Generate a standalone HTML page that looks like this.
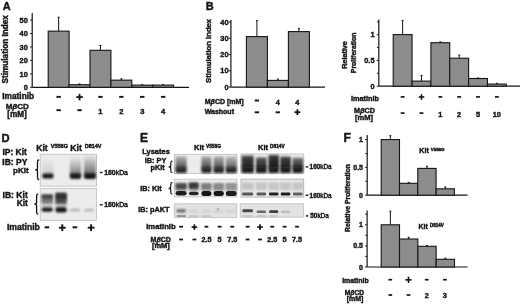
<!DOCTYPE html>
<html><head><meta charset="utf-8"><style>
html,body{margin:0;padding:0;background:#fff;width:520px;height:305px;overflow:hidden}
svg{display:block;font-family:"Liberation Sans", sans-serif;will-change:transform;filter:blur(0.3px)} text{stroke:#141414;stroke-width:0.4px;paint-order:stroke}
</style></head><body>
<svg width="520" height="305" viewBox="0 0 520 305">
<defs><filter id="bl1" x="-30%" y="-60%" width="160%" height="220%"><feGaussianBlur stdDeviation="0.1"/></filter><filter id="bl2" x="-30%" y="-60%" width="160%" height="220%"><feGaussianBlur stdDeviation="0.2"/></filter><filter id="bl3" x="-30%" y="-60%" width="160%" height="220%"><feGaussianBlur stdDeviation="0.3"/></filter><filter id="bl4" x="-30%" y="-60%" width="160%" height="220%"><feGaussianBlur stdDeviation="0.4"/></filter><filter id="bl5" x="-30%" y="-60%" width="160%" height="220%"><feGaussianBlur stdDeviation="0.5"/></filter><filter id="bl6" x="-30%" y="-60%" width="160%" height="220%"><feGaussianBlur stdDeviation="0.6"/></filter><filter id="bl7" x="-30%" y="-60%" width="160%" height="220%"><feGaussianBlur stdDeviation="0.7"/></filter><filter id="bl8" x="-30%" y="-60%" width="160%" height="220%"><feGaussianBlur stdDeviation="0.8"/></filter><filter id="bl9" x="-30%" y="-60%" width="160%" height="220%"><feGaussianBlur stdDeviation="0.9"/></filter><filter id="bl10" x="-30%" y="-60%" width="160%" height="220%"><feGaussianBlur stdDeviation="1.0"/></filter><filter id="bl11" x="-30%" y="-60%" width="160%" height="220%"><feGaussianBlur stdDeviation="1.1"/></filter><filter id="bl12" x="-30%" y="-60%" width="160%" height="220%"><feGaussianBlur stdDeviation="1.2"/></filter><filter id="bl13" x="-30%" y="-60%" width="160%" height="220%"><feGaussianBlur stdDeviation="1.3"/></filter><filter id="bl14" x="-30%" y="-60%" width="160%" height="220%"><feGaussianBlur stdDeviation="1.4"/></filter><filter id="bl15" x="-30%" y="-60%" width="160%" height="220%"><feGaussianBlur stdDeviation="1.5"/></filter><filter id="bl16" x="-30%" y="-60%" width="160%" height="220%"><feGaussianBlur stdDeviation="1.6"/></filter><filter id="bl17" x="-30%" y="-60%" width="160%" height="220%"><feGaussianBlur stdDeviation="1.7"/></filter><filter id="bl18" x="-30%" y="-60%" width="160%" height="220%"><feGaussianBlur stdDeviation="1.8"/></filter><filter id="bl19" x="-30%" y="-60%" width="160%" height="220%"><feGaussianBlur stdDeviation="1.9"/></filter><linearGradient id="g1" x1="0" y1="0" x2="0" y2="1"><stop offset="0" stop-color="#aaa" stop-opacity="0.0"/><stop offset="1" stop-color="#aaa" stop-opacity="0.5"/></linearGradient><linearGradient id="g2" x1="0" y1="0" x2="0" y2="1"><stop offset="0" stop-color="#6a6a6a" stop-opacity="0.0"/><stop offset="1" stop-color="#6a6a6a" stop-opacity="0.9"/></linearGradient><linearGradient id="g3" x1="0" y1="0" x2="0" y2="1"><stop offset="0" stop-color="#5a5a5a" stop-opacity="0.0"/><stop offset="1" stop-color="#5a5a5a" stop-opacity="0.95"/></linearGradient><linearGradient id="g4" x1="0" y1="0" x2="0" y2="1"><stop offset="0" stop-color="#9a9a9a" stop-opacity="0.75"/><stop offset="1" stop-color="#404040" stop-opacity="1.0"/></linearGradient><linearGradient id="g5" x1="0" y1="0" x2="0" y2="1"><stop offset="0" stop-color="#909090" stop-opacity="0.75"/><stop offset="1" stop-color="#3c3c3c" stop-opacity="1.0"/></linearGradient><linearGradient id="g6" x1="0" y1="0" x2="0" y2="1"><stop offset="0" stop-color="#959595" stop-opacity="0.75"/><stop offset="1" stop-color="#404040" stop-opacity="1.0"/></linearGradient><linearGradient id="g7" x1="0" y1="0" x2="0" y2="1"><stop offset="0" stop-color="#aaaaaa" stop-opacity="0.75"/><stop offset="1" stop-color="#4c4c4c" stop-opacity="1.0"/></linearGradient><linearGradient id="g8" x1="0" y1="0" x2="0" y2="1"><stop offset="0" stop-color="#555" stop-opacity="1.0"/><stop offset="0.35" stop-color="#333" stop-opacity="1.0"/><stop offset="1" stop-color="#262626" stop-opacity="1.0"/></linearGradient><linearGradient id="g9" x1="0" y1="0" x2="0" y2="1"><stop offset="0" stop-color="#707070" stop-opacity="1.0"/><stop offset="0.35" stop-color="#444" stop-opacity="1.0"/><stop offset="1" stop-color="#2e2e2e" stop-opacity="1.0"/></linearGradient><linearGradient id="g10" x1="0" y1="0" x2="0" y2="1"><stop offset="0" stop-color="#484848" stop-opacity="1.0"/><stop offset="0.35" stop-color="#2a2a2a" stop-opacity="1.0"/><stop offset="1" stop-color="#1e1e1e" stop-opacity="1.0"/></linearGradient><linearGradient id="g11" x1="0" y1="0" x2="0" y2="1"><stop offset="0" stop-color="#555" stop-opacity="1.0"/><stop offset="0.35" stop-color="#333" stop-opacity="1.0"/><stop offset="1" stop-color="#262626" stop-opacity="1.0"/></linearGradient><linearGradient id="g12" x1="0" y1="0" x2="0" y2="1"><stop offset="0" stop-color="#909090" stop-opacity="1.0"/><stop offset="0.35" stop-color="#555" stop-opacity="1.0"/><stop offset="1" stop-color="#303030" stop-opacity="1.0"/></linearGradient></defs>
<rect width="520" height="305" fill="#fff"/>
<text x="2.80" y="9.60" font-size="11" font-weight="bold" text-anchor="start" fill="#141414">A</text>
<line x1="32.20" y1="13.00" x2="32.20" y2="87.30" stroke="#141414" stroke-width="1.2"/>
<line x1="30.20" y1="87.30" x2="32.20" y2="87.30" stroke="#141414" stroke-width="1"/>
<text x="27.80" y="89.95" font-size="7.4" font-weight="bold" text-anchor="end" fill="#141414">0</text>
<line x1="30.20" y1="73.85" x2="32.20" y2="73.85" stroke="#141414" stroke-width="1"/>
<text x="27.80" y="76.50" font-size="7.4" font-weight="bold" text-anchor="end" fill="#141414">10</text>
<line x1="30.20" y1="60.40" x2="32.20" y2="60.40" stroke="#141414" stroke-width="1"/>
<text x="27.80" y="63.05" font-size="7.4" font-weight="bold" text-anchor="end" fill="#141414">20</text>
<line x1="30.20" y1="46.95" x2="32.20" y2="46.95" stroke="#141414" stroke-width="1"/>
<text x="27.80" y="49.60" font-size="7.4" font-weight="bold" text-anchor="end" fill="#141414">30</text>
<line x1="30.20" y1="33.50" x2="32.20" y2="33.50" stroke="#141414" stroke-width="1"/>
<text x="27.80" y="36.15" font-size="7.4" font-weight="bold" text-anchor="end" fill="#141414">40</text>
<line x1="30.20" y1="20.05" x2="32.20" y2="20.05" stroke="#141414" stroke-width="1"/>
<text x="27.80" y="22.70" font-size="7.4" font-weight="bold" text-anchor="end" fill="#141414">50</text>
<line x1="32.20" y1="87.30" x2="189.00" y2="87.30" stroke="#141414" stroke-width="1.2"/>
<line x1="58.65" y1="17.23" x2="58.65" y2="31.14" stroke="#141414" stroke-width="1"/>
<line x1="57.65" y1="17.23" x2="59.65" y2="17.23" stroke="#141414" stroke-width="1"/>
<rect x="48.20" y="31.14" width="20.90" height="56.16" fill="#8c8c8c" stroke="#141414" stroke-width="1.1"/>
<line x1="79.55" y1="83.92" x2="79.55" y2="84.73" stroke="#141414" stroke-width="1"/>
<line x1="78.55" y1="83.92" x2="80.55" y2="83.92" stroke="#141414" stroke-width="1"/>
<rect x="69.10" y="84.73" width="20.90" height="2.56" fill="#8c8c8c" stroke="#141414" stroke-width="1.1"/>
<line x1="100.45" y1="45.45" x2="100.45" y2="50.31" stroke="#141414" stroke-width="1"/>
<line x1="99.45" y1="45.45" x2="101.45" y2="45.45" stroke="#141414" stroke-width="1"/>
<rect x="90.00" y="50.31" width="20.90" height="36.99" fill="#8c8c8c" stroke="#141414" stroke-width="1.1"/>
<line x1="121.35" y1="78.80" x2="121.35" y2="80.14" stroke="#141414" stroke-width="1"/>
<line x1="120.35" y1="78.80" x2="122.35" y2="78.80" stroke="#141414" stroke-width="1"/>
<rect x="110.90" y="80.14" width="20.90" height="7.16" fill="#8c8c8c" stroke="#141414" stroke-width="1.1"/>
<line x1="142.25" y1="84.60" x2="142.25" y2="85.14" stroke="#141414" stroke-width="1"/>
<line x1="141.25" y1="84.60" x2="143.25" y2="84.60" stroke="#141414" stroke-width="1"/>
<rect x="131.80" y="85.14" width="20.90" height="2.16" fill="#8c8c8c" stroke="#141414" stroke-width="1.1"/>
<line x1="163.15" y1="84.60" x2="163.15" y2="85.14" stroke="#141414" stroke-width="1"/>
<line x1="162.15" y1="84.60" x2="164.15" y2="84.60" stroke="#141414" stroke-width="1"/>
<rect x="152.70" y="85.14" width="20.90" height="2.16" fill="#8c8c8c" stroke="#141414" stroke-width="1.1"/>
<text x="7.60" y="49.30" font-size="8.2" font-weight="bold" text-anchor="middle" fill="#141414" transform="rotate(-90 7.6 49.3)">Stimulation Index</text>
<text x="2.30" y="99.40" font-size="8.3" font-weight="bold" text-anchor="start" fill="#141414">Imatinib</text>
<text x="17.30" y="109.40" font-size="8.0" font-weight="bold" text-anchor="middle" fill="#141414">M<tspan font-style="italic">&#946;</tspan>CD</text>
<text x="17.00" y="117.20" font-size="8.2" font-weight="bold" text-anchor="middle" fill="#141414">[mM]</text>
<rect x="56.45" y="95.90" width="4.40" height="1.90" fill="#141414"/>
<rect x="76.30" y="96.20" width="6.50" height="1.80" fill="#141414"/>
<rect x="78.65" y="93.85" width="1.80" height="6.50" fill="#141414"/>
<rect x="98.25" y="95.90" width="4.40" height="1.90" fill="#141414"/>
<rect x="119.15" y="95.90" width="4.40" height="1.90" fill="#141414"/>
<rect x="140.05" y="95.90" width="4.40" height="1.90" fill="#141414"/>
<rect x="160.95" y="95.90" width="4.40" height="1.90" fill="#141414"/>
<rect x="56.45" y="109.25" width="4.40" height="1.90" fill="#141414"/>
<rect x="77.35" y="109.25" width="4.40" height="1.90" fill="#141414"/>
<text x="100.45" y="113.72" font-size="7.6" font-weight="bold" text-anchor="middle" fill="#141414">1</text>
<text x="121.35" y="113.72" font-size="7.6" font-weight="bold" text-anchor="middle" fill="#141414">2</text>
<text x="142.25" y="113.72" font-size="7.6" font-weight="bold" text-anchor="middle" fill="#141414">3</text>
<text x="163.15" y="113.72" font-size="7.6" font-weight="bold" text-anchor="middle" fill="#141414">4</text>
<text x="205.70" y="9.60" font-size="11" font-weight="bold" text-anchor="start" fill="#141414">B</text>
<line x1="230.90" y1="20.00" x2="230.90" y2="87.10" stroke="#141414" stroke-width="1.2"/>
<line x1="228.90" y1="87.10" x2="230.90" y2="87.10" stroke="#141414" stroke-width="1"/>
<text x="228.60" y="89.75" font-size="7.4" font-weight="bold" text-anchor="end" fill="#141414">0</text>
<line x1="228.90" y1="70.83" x2="230.90" y2="70.83" stroke="#141414" stroke-width="1"/>
<text x="228.60" y="73.48" font-size="7.4" font-weight="bold" text-anchor="end" fill="#141414">10</text>
<line x1="228.90" y1="54.56" x2="230.90" y2="54.56" stroke="#141414" stroke-width="1"/>
<text x="228.60" y="57.21" font-size="7.4" font-weight="bold" text-anchor="end" fill="#141414">20</text>
<line x1="228.90" y1="38.29" x2="230.90" y2="38.29" stroke="#141414" stroke-width="1"/>
<text x="228.60" y="40.94" font-size="7.4" font-weight="bold" text-anchor="end" fill="#141414">30</text>
<line x1="228.90" y1="22.02" x2="230.90" y2="22.02" stroke="#141414" stroke-width="1"/>
<text x="228.60" y="24.67" font-size="7.4" font-weight="bold" text-anchor="end" fill="#141414">40</text>
<line x1="230.90" y1="87.10" x2="325.00" y2="87.10" stroke="#141414" stroke-width="1.2"/>
<line x1="256.90" y1="20.60" x2="256.90" y2="36.60" stroke="#141414" stroke-width="1"/>
<line x1="255.90" y1="20.60" x2="257.90" y2="20.60" stroke="#141414" stroke-width="1"/>
<rect x="246.40" y="36.60" width="21.00" height="50.50" fill="#8c8c8c" stroke="#141414" stroke-width="1.1"/>
<line x1="277.90" y1="79.00" x2="277.90" y2="80.40" stroke="#141414" stroke-width="1"/>
<line x1="276.90" y1="79.00" x2="278.90" y2="79.00" stroke="#141414" stroke-width="1"/>
<rect x="267.40" y="80.40" width="21.00" height="6.70" fill="#8c8c8c" stroke="#141414" stroke-width="1.1"/>
<line x1="298.90" y1="28.40" x2="298.90" y2="31.60" stroke="#141414" stroke-width="1"/>
<line x1="297.90" y1="28.40" x2="299.90" y2="28.40" stroke="#141414" stroke-width="1"/>
<rect x="288.40" y="31.60" width="21.00" height="55.50" fill="#8c8c8c" stroke="#141414" stroke-width="1.1"/>
<text x="211.20" y="50.90" font-size="7.7" font-weight="bold" text-anchor="middle" fill="#141414" transform="rotate(-90 211.2 50.9)">Stimulation Index</text>
<text x="204.70" y="103.60" font-size="7.0" font-weight="bold" text-anchor="start" fill="#141414">M<tspan font-style="italic">&#946;</tspan>CD [mM]</text>
<text x="204.70" y="114.20" font-size="7.0" font-weight="bold" text-anchor="start" fill="#141414">Washout</text>
<rect x="254.75" y="99.55" width="4.30" height="1.90" fill="#141414"/>
<text x="277.80" y="104.61" font-size="7.3" font-weight="bold" text-anchor="middle" fill="#141414">4</text>
<text x="297.40" y="104.61" font-size="7.3" font-weight="bold" text-anchor="middle" fill="#141414">4</text>
<rect x="254.75" y="111.35" width="4.30" height="1.90" fill="#141414"/>
<rect x="275.65" y="111.35" width="4.30" height="1.90" fill="#141414"/>
<rect x="294.50" y="111.30" width="5.80" height="1.80" fill="#141414"/>
<rect x="296.50" y="109.30" width="1.80" height="5.80" fill="#141414"/>
<line x1="378.80" y1="19.40" x2="378.80" y2="86.20" stroke="#141414" stroke-width="1.2"/>
<line x1="376.80" y1="86.20" x2="378.80" y2="86.20" stroke="#141414" stroke-width="1"/>
<text x="374.50" y="88.85" font-size="7.4" font-weight="bold" text-anchor="end" fill="#141414">0</text>
<line x1="376.80" y1="60.45" x2="378.80" y2="60.45" stroke="#141414" stroke-width="1"/>
<text x="374.50" y="63.10" font-size="7.4" font-weight="bold" text-anchor="end" fill="#141414">0.5</text>
<line x1="376.80" y1="34.70" x2="378.80" y2="34.70" stroke="#141414" stroke-width="1"/>
<text x="374.50" y="37.35" font-size="7.4" font-weight="bold" text-anchor="end" fill="#141414">1</text>
<line x1="377.00" y1="73.33" x2="378.80" y2="73.33" stroke="#141414" stroke-width="1"/>
<line x1="377.00" y1="47.58" x2="378.80" y2="47.58" stroke="#141414" stroke-width="1"/>
<line x1="377.00" y1="21.83" x2="378.80" y2="21.83" stroke="#141414" stroke-width="1"/>
<line x1="378.80" y1="86.20" x2="520.00" y2="86.20" stroke="#141414" stroke-width="1.2"/>
<line x1="402.62" y1="20.40" x2="402.62" y2="34.60" stroke="#141414" stroke-width="1"/>
<line x1="401.62" y1="20.40" x2="403.62" y2="20.40" stroke="#141414" stroke-width="1"/>
<rect x="393.20" y="34.60" width="18.85" height="51.60" fill="#8c8c8c" stroke="#141414" stroke-width="1.1"/>
<line x1="421.48" y1="75.50" x2="421.48" y2="81.10" stroke="#141414" stroke-width="1"/>
<line x1="420.48" y1="75.50" x2="422.48" y2="75.50" stroke="#141414" stroke-width="1"/>
<rect x="412.05" y="81.10" width="18.85" height="5.10" fill="#8c8c8c" stroke="#141414" stroke-width="1.1"/>
<line x1="440.32" y1="41.90" x2="440.32" y2="42.70" stroke="#141414" stroke-width="1"/>
<line x1="439.32" y1="41.90" x2="441.32" y2="41.90" stroke="#141414" stroke-width="1"/>
<rect x="430.90" y="42.70" width="18.85" height="43.50" fill="#8c8c8c" stroke="#141414" stroke-width="1.1"/>
<line x1="459.18" y1="55.10" x2="459.18" y2="58.20" stroke="#141414" stroke-width="1"/>
<line x1="458.18" y1="55.10" x2="460.18" y2="55.10" stroke="#141414" stroke-width="1"/>
<rect x="449.75" y="58.20" width="18.85" height="28.00" fill="#8c8c8c" stroke="#141414" stroke-width="1.1"/>
<line x1="478.03" y1="78.00" x2="478.03" y2="78.50" stroke="#141414" stroke-width="1"/>
<line x1="477.03" y1="78.00" x2="479.03" y2="78.00" stroke="#141414" stroke-width="1"/>
<rect x="468.60" y="78.50" width="18.85" height="7.70" fill="#8c8c8c" stroke="#141414" stroke-width="1.1"/>
<line x1="496.88" y1="83.30" x2="496.88" y2="84.10" stroke="#141414" stroke-width="1"/>
<line x1="495.88" y1="83.30" x2="497.88" y2="83.30" stroke="#141414" stroke-width="1"/>
<rect x="487.45" y="84.10" width="18.85" height="2.10" fill="#8c8c8c" stroke="#141414" stroke-width="1.1"/>
<text x="346.80" y="54.90" font-size="7.2" font-weight="bold" text-anchor="middle" fill="#141414" transform="rotate(-90 346.8 54.9)">Relative</text>
<text x="356.00" y="52.90" font-size="6.9" font-weight="bold" text-anchor="middle" fill="#141414" transform="rotate(-90 356.0 52.9)">Proliferation</text>
<text x="351.00" y="100.80" font-size="7.3" font-weight="bold" text-anchor="start" fill="#141414">Imatinib</text>
<text x="364.50" y="113.40" font-size="7.3" font-weight="bold" text-anchor="middle" fill="#141414">M<tspan font-style="italic">&#946;</tspan>CD</text>
<text x="364.00" y="120.00" font-size="7.5" font-weight="bold" text-anchor="middle" fill="#141414">[mM]</text>
<rect x="400.73" y="96.05" width="3.80" height="1.70" fill="#141414"/>
<rect x="418.67" y="96.20" width="5.60" height="1.60" fill="#141414"/>
<rect x="420.67" y="94.20" width="1.60" height="5.60" fill="#141414"/>
<rect x="438.43" y="96.05" width="3.80" height="1.70" fill="#141414"/>
<rect x="457.28" y="96.05" width="3.80" height="1.70" fill="#141414"/>
<rect x="476.12" y="96.05" width="3.80" height="1.70" fill="#141414"/>
<rect x="494.98" y="96.05" width="3.80" height="1.70" fill="#141414"/>
<rect x="400.73" y="112.25" width="3.80" height="1.70" fill="#141414"/>
<rect x="419.57" y="112.25" width="3.80" height="1.70" fill="#141414"/>
<text x="440.32" y="116.55" font-size="7.4" font-weight="bold" text-anchor="middle" fill="#141414">1</text>
<text x="459.18" y="116.55" font-size="7.4" font-weight="bold" text-anchor="middle" fill="#141414">2</text>
<text x="478.02" y="116.55" font-size="7.4" font-weight="bold" text-anchor="middle" fill="#141414">5</text>
<text x="496.88" y="116.55" font-size="7.4" font-weight="bold" text-anchor="middle" fill="#141414">10</text>
<text x="343.60" y="141.70" font-size="12.0" font-weight="bold" text-anchor="start" fill="#141414">F</text>
<line x1="367.20" y1="135.00" x2="367.20" y2="195.20" stroke="#141414" stroke-width="1.2"/>
<line x1="365.20" y1="195.20" x2="367.20" y2="195.20" stroke="#141414" stroke-width="1"/>
<text x="363.00" y="197.71" font-size="7" font-weight="bold" text-anchor="end" fill="#141414">0</text>
<line x1="365.20" y1="167.40" x2="367.20" y2="167.40" stroke="#141414" stroke-width="1"/>
<text x="363.00" y="169.91" font-size="7" font-weight="bold" text-anchor="end" fill="#141414">0.5</text>
<line x1="365.20" y1="139.60" x2="367.20" y2="139.60" stroke="#141414" stroke-width="1"/>
<text x="363.00" y="142.11" font-size="7" font-weight="bold" text-anchor="end" fill="#141414">1</text>
<line x1="365.40" y1="181.30" x2="367.20" y2="181.30" stroke="#141414" stroke-width="1"/>
<line x1="365.40" y1="153.50" x2="367.20" y2="153.50" stroke="#141414" stroke-width="1"/>
<line x1="367.20" y1="195.20" x2="467.60" y2="195.20" stroke="#141414" stroke-width="1.2"/>
<line x1="390.35" y1="135.70" x2="390.35" y2="139.60" stroke="#141414" stroke-width="1"/>
<line x1="389.35" y1="135.70" x2="391.35" y2="135.70" stroke="#141414" stroke-width="1"/>
<rect x="381.20" y="139.60" width="18.30" height="55.60" fill="#8c8c8c" stroke="#141414" stroke-width="1.1"/>
<line x1="408.65" y1="182.40" x2="408.65" y2="183.30" stroke="#141414" stroke-width="1"/>
<line x1="407.65" y1="182.40" x2="409.65" y2="182.40" stroke="#141414" stroke-width="1"/>
<rect x="399.50" y="183.30" width="18.30" height="11.90" fill="#8c8c8c" stroke="#141414" stroke-width="1.1"/>
<line x1="426.95" y1="166.30" x2="426.95" y2="168.40" stroke="#141414" stroke-width="1"/>
<line x1="425.95" y1="166.30" x2="427.95" y2="166.30" stroke="#141414" stroke-width="1"/>
<rect x="417.80" y="168.40" width="18.30" height="26.80" fill="#8c8c8c" stroke="#141414" stroke-width="1.1"/>
<line x1="445.25" y1="187.00" x2="445.25" y2="188.80" stroke="#141414" stroke-width="1"/>
<line x1="444.25" y1="187.00" x2="446.25" y2="187.00" stroke="#141414" stroke-width="1"/>
<rect x="436.10" y="188.80" width="18.30" height="6.40" fill="#8c8c8c" stroke="#141414" stroke-width="1.1"/>
<text x="419.30" y="153.10" font-size="7.1" font-weight="bold" text-anchor="start" fill="#141414">Kit</text>
<text x="430.80" y="151.10" font-size="4.4" font-weight="bold" text-anchor="start" fill="#141414">V558G</text>
<line x1="367.10" y1="210.50" x2="367.10" y2="267.00" stroke="#141414" stroke-width="1.2"/>
<line x1="365.10" y1="267.00" x2="367.10" y2="267.00" stroke="#141414" stroke-width="1"/>
<text x="363.00" y="269.51" font-size="7" font-weight="bold" text-anchor="end" fill="#141414">0</text>
<line x1="365.10" y1="245.90" x2="367.10" y2="245.90" stroke="#141414" stroke-width="1"/>
<text x="363.00" y="248.41" font-size="7" font-weight="bold" text-anchor="end" fill="#141414">0.5</text>
<line x1="365.10" y1="224.80" x2="367.10" y2="224.80" stroke="#141414" stroke-width="1"/>
<text x="363.00" y="227.31" font-size="7" font-weight="bold" text-anchor="end" fill="#141414">1</text>
<line x1="365.30" y1="256.45" x2="367.10" y2="256.45" stroke="#141414" stroke-width="1"/>
<line x1="365.30" y1="235.35" x2="367.10" y2="235.35" stroke="#141414" stroke-width="1"/>
<line x1="365.30" y1="214.25" x2="367.10" y2="214.25" stroke="#141414" stroke-width="1"/>
<line x1="367.10" y1="267.00" x2="467.60" y2="267.00" stroke="#141414" stroke-width="1.2"/>
<line x1="390.36" y1="211.20" x2="390.36" y2="224.80" stroke="#141414" stroke-width="1"/>
<line x1="389.36" y1="211.20" x2="391.36" y2="211.20" stroke="#141414" stroke-width="1"/>
<rect x="381.20" y="224.80" width="18.32" height="42.20" fill="#8c8c8c" stroke="#141414" stroke-width="1.1"/>
<line x1="408.68" y1="237.30" x2="408.68" y2="239.00" stroke="#141414" stroke-width="1"/>
<line x1="407.68" y1="237.30" x2="409.68" y2="237.30" stroke="#141414" stroke-width="1"/>
<rect x="399.52" y="239.00" width="18.32" height="28.00" fill="#8c8c8c" stroke="#141414" stroke-width="1.1"/>
<line x1="427.00" y1="245.60" x2="427.00" y2="246.30" stroke="#141414" stroke-width="1"/>
<line x1="426.00" y1="245.60" x2="428.00" y2="245.60" stroke="#141414" stroke-width="1"/>
<rect x="417.84" y="246.30" width="18.32" height="20.70" fill="#8c8c8c" stroke="#141414" stroke-width="1.1"/>
<line x1="445.32" y1="258.20" x2="445.32" y2="259.30" stroke="#141414" stroke-width="1"/>
<line x1="444.32" y1="258.20" x2="446.32" y2="258.20" stroke="#141414" stroke-width="1"/>
<rect x="436.16" y="259.30" width="18.32" height="7.70" fill="#8c8c8c" stroke="#141414" stroke-width="1.1"/>
<text x="418.40" y="229.40" font-size="7.0" font-weight="bold" text-anchor="start" fill="#141414">Kit</text>
<text x="430.10" y="226.90" font-size="4.5" font-weight="bold" text-anchor="start" fill="#141414">D814V</text>
<text x="349.80" y="198.00" font-size="6.8" font-weight="bold" text-anchor="middle" fill="#141414" transform="rotate(-90 349.8 198)">Relative Proliferation</text>
<text x="342.20" y="282.70" font-size="6.9" font-weight="bold" text-anchor="start" fill="#141414">Imatinib</text>
<text x="354.40" y="295.00" font-size="6.7" font-weight="bold" text-anchor="middle" fill="#141414">M<tspan font-style="italic">&#946;</tspan>CD</text>
<text x="355.10" y="301.20" font-size="7" font-weight="bold" text-anchor="middle" fill="#141414">[mM]</text>
<rect x="388.45" y="278.85" width="3.70" height="1.70" fill="#141414"/>
<rect x="405.40" y="279.05" width="6.20" height="1.60" fill="#141414"/>
<rect x="407.70" y="276.75" width="1.60" height="6.20" fill="#141414"/>
<rect x="424.85" y="278.85" width="3.70" height="1.70" fill="#141414"/>
<rect x="443.05" y="278.85" width="3.70" height="1.70" fill="#141414"/>
<rect x="388.45" y="294.15" width="3.70" height="1.70" fill="#141414"/>
<rect x="406.65" y="294.15" width="3.70" height="1.70" fill="#141414"/>
<text x="426.70" y="298.05" font-size="7.4" font-weight="bold" text-anchor="middle" fill="#141414">2</text>
<text x="444.90" y="298.05" font-size="7.4" font-weight="bold" text-anchor="middle" fill="#141414">3</text>
<text x="1.50" y="141.60" font-size="11.2" font-weight="bold" text-anchor="start" fill="#141414">D</text>
<text x="36.20" y="150.80" font-size="8.6" font-weight="bold" text-anchor="start" fill="#141414">Kit</text>
<text x="50.80" y="148.10" font-size="5.5" font-weight="bold" text-anchor="start" fill="#141414">V558G</text>
<text x="70.30" y="150.80" font-size="8.6" font-weight="bold" text-anchor="start" fill="#141414">Kit</text>
<text x="84.70" y="148.10" font-size="5.5" font-weight="bold" text-anchor="start" fill="#141414">D814V</text>
<text x="2.40" y="154.80" font-size="8.5" font-weight="bold" text-anchor="start" fill="#141414">IP: Kit</text>
<text x="2.30" y="165.00" font-size="8.5" font-weight="bold" text-anchor="start" fill="#141414">IB: PY</text>
<text x="28.60" y="172.90" font-size="8.0" font-weight="bold" text-anchor="end" fill="#141414">pKit</text>
<text x="2.50" y="197.80" font-size="8.6" font-weight="bold" text-anchor="start" fill="#141414">IB: Kit</text>
<text x="27.90" y="206.30" font-size="8.4" font-weight="bold" text-anchor="end" fill="#141414">Kit</text>
<text x="6.90" y="230.10" font-size="8.6" font-weight="bold" text-anchor="start" fill="#141414">Imatinib</text>
<rect x="44.60" y="226.30" width="4.60" height="2.00" fill="#141414"/>
<rect x="58.90" y="226.75" width="6.80" height="1.90" fill="#141414"/>
<rect x="61.35" y="224.30" width="1.90" height="6.80" fill="#141414"/>
<rect x="72.60" y="226.30" width="4.60" height="2.00" fill="#141414"/>
<rect x="87.70" y="226.75" width="6.80" height="1.90" fill="#141414"/>
<rect x="90.15" y="224.30" width="1.90" height="6.80" fill="#141414"/>
<path d="M38.70,160.00 C37.50,160.00 37.50,160.60 37.50,161.80 L37.50,168.15 C37.50,169.25 36.50,169.75 35.30,169.75 C36.50,169.75 37.50,170.25 37.50,171.35 L37.50,177.70 C37.50,178.90 37.50,179.50 38.70,179.50" fill="none" stroke="#141414" stroke-width="1.3" stroke-linecap="round"/>
<path d="M37.80,194.10 C36.60,194.10 36.60,194.70 36.60,195.90 L36.60,202.50 C36.60,203.60 35.60,204.10 34.40,204.10 C35.60,204.10 36.60,204.60 36.60,205.70 L36.60,212.30 C36.60,213.50 36.60,214.10 37.80,214.10" fill="none" stroke="#141414" stroke-width="1.3" stroke-linecap="round"/>
<rect x="40.20" y="154.20" width="56.20" height="32.00" fill="#ececec" stroke="#bdbdbd" stroke-width="0.8"/>
<rect x="42.30" y="158.00" width="11.20" height="17.50" fill="url(#g1)" filter="url(#bl10)" rx="1"/>
<rect x="42.30" y="173.50" width="11.20" height="5.10" fill="#1c1c1c" fill-opacity="1.0" filter="url(#bl9)" rx="2"/>
<rect x="69.90" y="156.70" width="11.20" height="18.80" fill="url(#g2)" filter="url(#bl10)" rx="1"/>
<rect x="69.90" y="173.30" width="11.20" height="5.70" fill="#1c1c1c" fill-opacity="1.0" filter="url(#bl9)" rx="2"/>
<rect x="84.00" y="154.60" width="11.90" height="20.90" fill="url(#g3)" filter="url(#bl10)" rx="1"/>
<rect x="84.00" y="173.30" width="11.90" height="5.70" fill="#181818" fill-opacity="1.0" filter="url(#bl9)" rx="2"/>
<rect x="40.20" y="188.40" width="56.20" height="31.90" fill="#ececec" stroke="#bdbdbd" stroke-width="0.8"/>
<rect x="41.60" y="198.50" width="11.20" height="9.00" fill="#aaa" fill-opacity="0.6" filter="url(#bl12)" rx="0.8"/>
<rect x="55.50" y="198.50" width="11.10" height="9.00" fill="#999" fill-opacity="0.6" filter="url(#bl12)" rx="0.8"/>
<rect x="41.60" y="194.00" width="11.20" height="9.20" fill="#666" fill-opacity="0.85" filter="url(#bl12)" rx="0.8"/>
<rect x="55.50" y="192.60" width="11.10" height="11.20" fill="#444" fill-opacity="0.9" filter="url(#bl12)" rx="0.8"/>
<rect x="41.80" y="195.00" width="10.80" height="3.80" fill="#3a3a3a" fill-opacity="0.85" filter="url(#bl9)" rx="0.8"/>
<rect x="55.70" y="193.80" width="10.70" height="5.70" fill="#2a2a2a" fill-opacity="0.85" filter="url(#bl9)" rx="0.8"/>
<rect x="41.60" y="207.40" width="11.20" height="4.40" fill="#1a1a1a" fill-opacity="1.0" filter="url(#bl8)" rx="2"/>
<rect x="55.50" y="207.30" width="11.10" height="5.10" fill="#161616" fill-opacity="1.0" filter="url(#bl8)" rx="2"/>
<rect x="69.80" y="208.80" width="10.20" height="2.80" fill="#b4b4b4" fill-opacity="1.0" filter="url(#bl8)" rx="2"/>
<rect x="84.20" y="208.80" width="10.00" height="2.80" fill="#b8b8b8" fill-opacity="1.0" filter="url(#bl8)" rx="2"/>
<rect x="99.80" y="171.80" width="2.80" height="1.40" fill="#141414"/>
<rect x="99.80" y="204.10" width="2.80" height="1.40" fill="#141414"/>
<text x="104.20" y="174.70" font-size="6.9" font-weight="bold" text-anchor="start" fill="#141414">160<tspan font-weight="normal">kDa</tspan></text>
<text x="104.20" y="207.10" font-size="6.9" font-weight="bold" text-anchor="start" fill="#141414">160<tspan font-weight="normal">kDa</tspan></text>
<text x="139.90" y="141.60" font-size="12.0" font-weight="bold" text-anchor="start" fill="#141414">E</text>
<text x="194.00" y="150.00" font-size="7.5" font-weight="bold" text-anchor="start" fill="#141414">Kit</text>
<text x="206.00" y="147.60" font-size="4.8" font-weight="bold" text-anchor="start" fill="#141414">V558G</text>
<text x="258.00" y="149.60" font-size="7.5" font-weight="bold" text-anchor="start" fill="#141414">Kit</text>
<text x="270.00" y="148.00" font-size="4.8" font-weight="bold" text-anchor="start" fill="#141414">D814V</text>
<text x="142.20" y="153.70" font-size="7.5" font-weight="bold" text-anchor="start" fill="#141414">Lysates</text>
<text x="166.30" y="163.40" font-size="7.3" font-weight="bold" text-anchor="end" fill="#141414">IB: PY</text>
<text x="164.80" y="170.20" font-size="7.3" font-weight="bold" text-anchor="end" fill="#141414">pKit</text>
<text x="161.70" y="190.80" font-size="7.3" font-weight="bold" text-anchor="end" fill="#141414">IB: Kit</text>
<text x="169.40" y="211.70" font-size="7.3" font-weight="bold" text-anchor="end" fill="#141414">IB: pAKT</text>
<path d="M172.00,161.20 C170.80,161.20 170.80,161.80 170.80,163.00 L170.80,165.25 C170.80,166.35 169.80,166.85 168.60,166.85 C169.80,166.85 170.80,167.35 170.80,168.45 L170.80,170.70 C170.80,171.90 170.80,172.50 172.00,172.50" fill="none" stroke="#141414" stroke-width="1.2" stroke-linecap="round"/>
<path d="M172.00,182.60 C170.80,182.60 170.80,183.20 170.80,184.40 L170.80,186.70 C170.80,187.80 169.80,188.30 168.60,188.30 C169.80,188.30 170.80,188.80 170.80,189.90 L170.80,192.20 C170.80,193.40 170.80,194.00 172.00,194.00" fill="none" stroke="#141414" stroke-width="1.2" stroke-linecap="round"/>
<text x="146.20" y="229.20" font-size="7.7" font-weight="bold" text-anchor="start" fill="#141414">Imatinib</text>
<text x="160.70" y="241.50" font-size="7.0" font-weight="bold" text-anchor="middle" fill="#141414">M<tspan font-style="italic">&#946;</tspan>CD</text>
<text x="160.90" y="247.70" font-size="7.5" font-weight="bold" text-anchor="middle" fill="#141414">[mM]</text>
<rect x="179.20" y="225.80" width="3.80" height="1.80" fill="#141414"/>
<rect x="191.60" y="226.25" width="5.60" height="1.70" fill="#141414"/>
<rect x="193.55" y="224.30" width="1.70" height="5.60" fill="#141414"/>
<rect x="204.50" y="225.80" width="3.80" height="1.80" fill="#141414"/>
<rect x="217.70" y="225.80" width="3.80" height="1.80" fill="#141414"/>
<rect x="230.30" y="225.80" width="3.80" height="1.80" fill="#141414"/>
<rect x="245.70" y="225.80" width="3.80" height="1.80" fill="#141414"/>
<rect x="257.20" y="226.25" width="5.60" height="1.70" fill="#141414"/>
<rect x="259.15" y="224.30" width="1.70" height="5.60" fill="#141414"/>
<rect x="270.30" y="225.80" width="3.80" height="1.80" fill="#141414"/>
<rect x="282.70" y="225.80" width="3.80" height="1.80" fill="#141414"/>
<rect x="295.10" y="225.80" width="3.80" height="1.80" fill="#141414"/>
<rect x="179.20" y="238.60" width="3.80" height="1.80" fill="#141414"/>
<rect x="192.50" y="238.60" width="3.80" height="1.80" fill="#141414"/>
<text x="206.40" y="242.18" font-size="7.2" font-weight="bold" text-anchor="middle" fill="#141414">2.5</text>
<text x="219.60" y="242.18" font-size="7.2" font-weight="bold" text-anchor="middle" fill="#141414">5</text>
<text x="232.20" y="242.18" font-size="7.2" font-weight="bold" text-anchor="middle" fill="#141414">7.5</text>
<rect x="245.70" y="238.60" width="3.80" height="1.80" fill="#141414"/>
<rect x="258.10" y="238.60" width="3.80" height="1.80" fill="#141414"/>
<text x="272.20" y="242.18" font-size="7.2" font-weight="bold" text-anchor="middle" fill="#141414">2.5</text>
<text x="284.60" y="242.18" font-size="7.2" font-weight="bold" text-anchor="middle" fill="#141414">5</text>
<text x="297.00" y="242.18" font-size="7.2" font-weight="bold" text-anchor="middle" fill="#141414">7.5</text>
<rect x="174.30" y="154.30" width="62.60" height="19.10" fill="#ececec" stroke="#bdbdbd" stroke-width="0.8"/>
<rect x="175.60" y="156.40" width="11.00" height="12.60" fill="url(#g4)" filter="url(#bl9)" rx="1"/>
<rect x="175.60" y="167.40" width="11.00" height="5.50" fill="#262626" fill-opacity="1.0" filter="url(#bl9)" rx="0.8"/>
<rect x="201.40" y="156.40" width="10.00" height="12.60" fill="url(#g5)" filter="url(#bl9)" rx="1"/>
<rect x="201.40" y="167.40" width="10.00" height="5.50" fill="#262626" fill-opacity="1.0" filter="url(#bl9)" rx="0.8"/>
<rect x="213.60" y="156.40" width="10.20" height="12.60" fill="url(#g6)" filter="url(#bl9)" rx="1"/>
<rect x="213.60" y="167.40" width="10.20" height="5.50" fill="#262626" fill-opacity="1.0" filter="url(#bl9)" rx="0.8"/>
<rect x="225.80" y="156.40" width="10.80" height="12.60" fill="url(#g7)" filter="url(#bl9)" rx="1"/>
<rect x="225.80" y="167.40" width="10.80" height="5.50" fill="#262626" fill-opacity="1.0" filter="url(#bl9)" rx="0.8"/>
<rect x="174.30" y="179.20" width="62.60" height="17.70" fill="#ececec" stroke="#bdbdbd" stroke-width="0.8"/>
<rect x="175.60" y="183.20" width="11.00" height="8.30" fill="#9a9a9a" fill-opacity="0.8" filter="url(#bl10)" rx="0.8"/>
<rect x="188.80" y="183.20" width="9.80" height="8.30" fill="#9a9a9a" fill-opacity="0.8" filter="url(#bl10)" rx="0.8"/>
<rect x="201.40" y="183.20" width="10.00" height="8.30" fill="#9a9a9a" fill-opacity="0.8" filter="url(#bl10)" rx="0.8"/>
<rect x="213.60" y="183.20" width="10.20" height="8.30" fill="#9a9a9a" fill-opacity="0.8" filter="url(#bl10)" rx="0.8"/>
<rect x="225.80" y="183.20" width="10.80" height="8.30" fill="#9a9a9a" fill-opacity="0.8" filter="url(#bl10)" rx="0.8"/>
<rect x="175.60" y="183.20" width="11.00" height="6.00" fill="#444" fill-opacity="0.95" filter="url(#bl10)" rx="0.8"/>
<rect x="188.80" y="182.50" width="9.80" height="6.30" fill="#2e2e2e" fill-opacity="0.95" filter="url(#bl10)" rx="0.8"/>
<rect x="201.40" y="183.50" width="10.00" height="6.10" fill="#7a7a7a" fill-opacity="0.95" filter="url(#bl10)" rx="0.8"/>
<rect x="213.60" y="183.50" width="10.20" height="6.10" fill="#858585" fill-opacity="0.95" filter="url(#bl10)" rx="0.8"/>
<rect x="225.80" y="183.50" width="10.80" height="6.10" fill="#909090" fill-opacity="0.95" filter="url(#bl10)" rx="0.8"/>
<rect x="175.60" y="191.00" width="11.00" height="4.40" fill="#1c1c1c" filter="url(#bl7)" rx="2.5"/>
<rect x="188.80" y="191.70" width="9.80" height="3.50" fill="#262626" filter="url(#bl7)" rx="2.5"/>
<rect x="201.40" y="190.90" width="10.00" height="5.20" fill="#181818" filter="url(#bl7)" rx="2.5"/>
<rect x="213.60" y="190.90" width="10.20" height="5.20" fill="#181818" filter="url(#bl7)" rx="2.5"/>
<rect x="225.80" y="190.90" width="10.80" height="5.20" fill="#1a1a1a" filter="url(#bl7)" rx="2.5"/>
<rect x="174.20" y="203.80" width="62.60" height="13.70" fill="#e3e3e3" stroke="#bdbdbd" stroke-width="0.8"/>
<rect x="176.60" y="209.20" width="9.10" height="3.30" fill="#555" fill-opacity="0.85" filter="url(#bl8)" rx="0.8"/>
<rect x="176.60" y="215.20" width="9.40" height="1.60" fill="#555" fill-opacity="0.75" filter="url(#bl6)" rx="0.8"/>
<rect x="188.80" y="215.30" width="9.80" height="1.50" fill="#999" fill-opacity="0.5" filter="url(#bl7)" rx="0.8"/>
<rect x="201.40" y="215.30" width="10.00" height="1.50" fill="#999" fill-opacity="0.5" filter="url(#bl7)" rx="0.8"/>
<rect x="188.80" y="209.50" width="9.80" height="3.50" fill="#c4c4c4" fill-opacity="0.5" filter="url(#bl10)" rx="0.8"/>
<rect x="201.40" y="209.50" width="10.00" height="3.50" fill="#c4c4c4" fill-opacity="0.5" filter="url(#bl10)" rx="0.8"/>
<rect x="213.60" y="209.50" width="10.20" height="3.50" fill="#c4c4c4" fill-opacity="0.5" filter="url(#bl10)" rx="0.8"/>
<rect x="225.80" y="209.50" width="10.80" height="3.50" fill="#c4c4c4" fill-opacity="0.5" filter="url(#bl10)" rx="0.8"/>
<rect x="216.80" y="208.20" width="2.00" height="2.00" fill="#888" fill-opacity="0.7" filter="url(#bl6)" rx="0.8"/>
<rect x="241.00" y="154.00" width="62.70" height="19.20" fill="#ececec" stroke="#bdbdbd" stroke-width="0.8"/>
<rect x="241.60" y="155.60" width="12.10" height="12.40" fill="url(#g8)" filter="url(#bl8)" rx="1"/>
<rect x="241.60" y="166.60" width="12.10" height="6.30" fill="#1c1c1c" fill-opacity="1.0" filter="url(#bl8)" rx="0.8"/>
<rect x="256.00" y="157.30" width="10.70" height="10.70" fill="url(#g9)" filter="url(#bl8)" rx="1"/>
<rect x="256.00" y="166.60" width="10.70" height="6.30" fill="#1c1c1c" fill-opacity="1.0" filter="url(#bl8)" rx="0.8"/>
<rect x="268.40" y="155.10" width="10.60" height="12.90" fill="url(#g10)" filter="url(#bl8)" rx="1"/>
<rect x="268.40" y="166.60" width="10.60" height="6.30" fill="#1c1c1c" fill-opacity="1.0" filter="url(#bl8)" rx="0.8"/>
<rect x="280.20" y="156.40" width="10.70" height="11.60" fill="url(#g11)" filter="url(#bl8)" rx="1"/>
<rect x="280.20" y="166.60" width="10.70" height="6.30" fill="#1c1c1c" fill-opacity="1.0" filter="url(#bl8)" rx="0.8"/>
<rect x="292.40" y="157.50" width="10.70" height="10.50" fill="url(#g12)" filter="url(#bl8)" rx="1"/>
<rect x="292.40" y="166.60" width="10.70" height="6.30" fill="#1c1c1c" fill-opacity="1.0" filter="url(#bl8)" rx="0.8"/>
<rect x="241.00" y="179.10" width="62.70" height="18.00" fill="#e6e6e6" stroke="#aaa" stroke-width="0.8"/>
<rect x="241.60" y="182.50" width="12.10" height="7.50" fill="#c0c0c0" fill-opacity="0.85" filter="url(#bl11)" rx="0.8"/>
<rect x="242.20" y="192.60" width="10.90" height="2.80" fill="#555" fill-opacity="1.0" filter="url(#bl6)" rx="0.8"/>
<rect x="256.00" y="182.50" width="10.70" height="7.50" fill="#c0c0c0" fill-opacity="0.85" filter="url(#bl11)" rx="0.8"/>
<rect x="256.60" y="192.60" width="9.50" height="2.80" fill="#5a5a5a" fill-opacity="1.0" filter="url(#bl6)" rx="0.8"/>
<rect x="268.40" y="182.50" width="10.60" height="7.50" fill="#c0c0c0" fill-opacity="0.85" filter="url(#bl11)" rx="0.8"/>
<rect x="269.00" y="192.60" width="9.40" height="2.80" fill="#222" fill-opacity="1.0" filter="url(#bl6)" rx="0.8"/>
<rect x="280.20" y="182.50" width="10.70" height="7.50" fill="#c0c0c0" fill-opacity="0.85" filter="url(#bl11)" rx="0.8"/>
<rect x="280.80" y="192.60" width="9.50" height="2.80" fill="#1e1e1e" fill-opacity="1.0" filter="url(#bl6)" rx="0.8"/>
<rect x="292.40" y="182.50" width="10.70" height="7.50" fill="#c0c0c0" fill-opacity="0.85" filter="url(#bl11)" rx="0.8"/>
<rect x="293.00" y="192.60" width="9.50" height="2.80" fill="#606060" fill-opacity="1.0" filter="url(#bl6)" rx="0.8"/>
<rect x="240.20" y="203.80" width="63.20" height="13.40" fill="#e3e3e3" stroke="#bdbdbd" stroke-width="0.8"/>
<rect x="242.40" y="209.20" width="10.50" height="3.10" fill="#383838" fill-opacity="0.9" filter="url(#bl7)" rx="0.8"/>
<rect x="242.60" y="215.20" width="10.10" height="1.60" fill="#999" fill-opacity="0.5" filter="url(#bl7)" rx="0.8"/>
<rect x="256.80" y="210.40" width="9.10" height="2.60" fill="#5a5a5a" fill-opacity="0.9" filter="url(#bl7)" rx="0.8"/>
<rect x="257.00" y="215.20" width="8.70" height="1.60" fill="#999" fill-opacity="0.5" filter="url(#bl7)" rx="0.8"/>
<rect x="269.20" y="210.30" width="9.00" height="2.70" fill="#2e2e2e" fill-opacity="0.9" filter="url(#bl7)" rx="0.8"/>
<rect x="269.40" y="215.20" width="8.60" height="1.60" fill="#999" fill-opacity="0.5" filter="url(#bl7)" rx="0.8"/>
<rect x="281.00" y="210.50" width="9.10" height="2.50" fill="#bbb" fill-opacity="0.9" filter="url(#bl7)" rx="0.8"/>
<rect x="305.75" y="166.20" width="2.50" height="1.40" fill="#141414"/>
<rect x="305.75" y="194.60" width="2.50" height="1.40" fill="#141414"/>
<rect x="305.75" y="215.20" width="2.50" height="1.40" fill="#141414"/>
<text x="309.60" y="168.90" font-size="6.4" font-weight="bold" text-anchor="start" fill="#141414">160<tspan font-weight="normal">kDa</tspan></text>
<text x="309.60" y="197.80" font-size="6.4" font-weight="bold" text-anchor="start" fill="#141414">160<tspan font-weight="normal">kDa</tspan></text>
<text x="310.30" y="218.30" font-size="6.4" font-weight="bold" text-anchor="start" fill="#141414">50<tspan font-weight="normal">kDa</tspan></text>
</svg>
</body></html>
